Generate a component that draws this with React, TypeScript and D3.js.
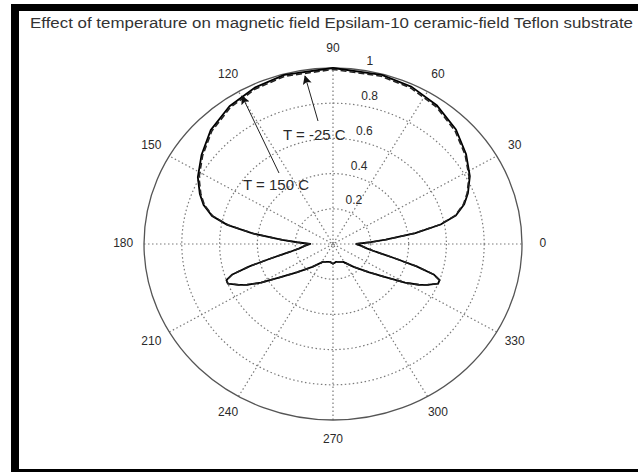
import React from "react";
import * as d3 from "d3";

// Polar pattern samples: angle (degrees) and normalised field magnitude
const angles = [
  0, 3, 5, 8, 11, 14, 18, 22, 28, 36, 45, 55, 65, 75, 90,
  105, 115, 125, 135, 144, 152, 158, 162, 166, 169, 172, 175, 177, 180,
  184, 188, 191, 194, 196, 198, 200, 202, 205, 207, 210, 214, 220, 230, 242, 255, 262, 266, 270,
  274, 278, 285, 298, 310, 320, 326, 330, 333, 335, 338, 340, 342, 344, 346, 349, 352, 356, 360,
];

const rColdValues = [
  0.12, 0.2, 0.28, 0.44, 0.58, 0.67, 0.73, 0.77, 0.82, 0.87, 0.92, 0.96, 0.985, 0.995, 1.0,
  0.995, 0.98, 0.955, 0.915, 0.86, 0.81, 0.76, 0.72, 0.66, 0.57, 0.43, 0.27, 0.19, 0.12,
  0.15, 0.18, 0.23, 0.34, 0.46, 0.56, 0.6, 0.6, 0.55, 0.51, 0.44, 0.34, 0.25, 0.17, 0.115, 0.105, 0.103, 0.108, 0.112,
  0.108, 0.103, 0.105, 0.115, 0.17, 0.25, 0.34, 0.44, 0.51, 0.55, 0.6, 0.6, 0.56, 0.46, 0.34, 0.23, 0.18, 0.15, 0.12,
];

const rHotValues = [
  0.12, 0.2, 0.28, 0.435, 0.575, 0.665, 0.725, 0.765, 0.815, 0.864, 0.912, 0.952, 0.977, 0.987, 0.992,
  0.987, 0.972, 0.947, 0.907, 0.853, 0.803, 0.754, 0.715, 0.655, 0.565, 0.425, 0.27, 0.19, 0.12,
  0.15, 0.18, 0.23, 0.34, 0.46, 0.56, 0.6, 0.6, 0.55, 0.51, 0.44, 0.34, 0.25, 0.17, 0.115, 0.105, 0.103, 0.108, 0.112,
  0.108, 0.103, 0.105, 0.115, 0.17, 0.25, 0.34, 0.44, 0.51, 0.55, 0.6, 0.6, 0.56, 0.46, 0.34, 0.23, 0.18, 0.15, 0.12,
];

const angleTicks = [0, 30, 60, 90, 120, 150, 180, 210, 240, 270, 300, 330];
const spokeAngles = [0, 30, 60, 90, 120, 150];
const radiusTicks = [0.2, 0.4, 0.6, 0.8, 1];
const radiusTickLabels = ["0.2", "0.4", "0.6", "0.8", "1"];

const title =
  "Effect of temperature on magnetic field Epsilam-10 ceramic-field Teflon substrate";

const W = 638;
const H = 472;
const cx = 333;
const cy = 244;
const rx = 189;
const ry = 176;

const x = d3.scaleLinear().domain([-1, 1]).range([cx - rx, cx + rx]);
const y = d3.scaleLinear().domain([-1, 1]).range([cy + ry, cy - ry]);
const rad = (deg: number) => (deg * Math.PI) / 180;

type P = [number, number]; // [angleDeg, r]

const polarLine = d3
  .line<P>()
  .x((d) => x(d[1] * Math.cos(rad(d[0]))))
  .y((d) => y(d[1] * Math.sin(rad(d[0]))));

const coldSeries: P[] = angles.map((a, i) => [a, rColdValues[i]]);
const hotSeries: P[] = angles.map((a, i) => [a, rHotValues[i]]);

const gridColor = "#7a7a7a";
const textColor = "#2a2a2a";
const font = "Arial, 'Liberation Sans', Helvetica, sans-serif";

export default function App() {
  return (
    <svg
      width={W}
      height={H}
      style={{ position: "absolute", left: 0, top: 0, display: "block" }}
      fontFamily={font}
    >
      <defs>
        <marker
          id="arrow"
          viewBox="0 0 10 10"
          refX="9"
          refY="5"
          markerWidth="9"
          markerHeight="9"
          markerUnits="userSpaceOnUse"
          orient="auto"
        >
          <path d="M0,0 L10,5 L0,10 L2,5 Z" fill="#111" />
        </marker>
      </defs>
      <rect x={0} y={0} width={W} height={H} fill="#fff" />

      {/* frame */}
      <rect x={11} y={4} width={W - 11} height={7} fill="#000" />
      <rect x={11} y={4} width={8} height={H - 4} fill="#000" />
      <rect x={11} y={469} width={W - 11} height={3} fill="#000" />

      <text
        x={30}
        y={28}
        fontSize={14}
        fill="#333"
        textLength={603}
        lengthAdjust="spacingAndGlyphs"
      >
        {title}
      </text>

      {/* spokes */}
      {spokeAngles.map((a) => (
        <line
          key={"s" + a}
          x1={x(-Math.cos(rad(a)))}
          y1={y(-Math.sin(rad(a)))}
          x2={x(Math.cos(rad(a)))}
          y2={y(Math.sin(rad(a)))}
          stroke={gridColor}
          strokeWidth={1.2}
          strokeDasharray="1.5,2.5"
        />
      ))}

      {/* rings */}
      {radiusTicks.map((r) =>
        r < 1 ? (
          <ellipse
            key={"r" + r}
            cx={x(0)}
            cy={y(0)}
            rx={x(r) - x(0)}
            ry={y(0) - y(r)}
            fill="none"
            stroke={gridColor}
            strokeWidth={1.2}
            strokeDasharray="1.5,2.5"
          />
        ) : (
          <ellipse
            key={"r" + r}
            cx={x(0)}
            cy={y(0)}
            rx={x(r) - x(0)}
            ry={y(0) - y(r)}
            fill="none"
            stroke="#555"
            strokeWidth={1.3}
          />
        )
      )}

      {/* radius labels along the 82 degree direction */}
      {radiusTicks.map((r, i) => (
        <text
          key={"rl" + r}
          x={x((r + 0.01) * Math.cos(rad(82))) + 7}
          y={y((r + 0.01) * Math.sin(rad(82))) - 3}
          fontSize={12}
          fill={textColor}
        >
          {radiusTickLabels[i]}
        </text>
      ))}

      {/* angle labels */}
      {angleTicks.map((a) => (
        <text
          key={"a" + a}
          x={x(1.11 * Math.cos(rad(a)))}
          y={y(1.11 * Math.sin(rad(a)))}
          fontSize={12}
          fill={textColor}
          textAnchor="middle"
          dominantBaseline="middle"
        >
          {a}
        </text>
      ))}

      {/* pattern curves */}
      <path
        d={polarLine(coldSeries) ?? ""}
        fill="none"
        stroke="#000"
        strokeWidth={1.8}
        strokeLinejoin="round"
      />
      <path
        d={polarLine(hotSeries) ?? ""}
        fill="none"
        stroke="#222"
        strokeWidth={1.6}
        strokeDasharray="6,3"
        strokeLinejoin="round"
      />

      {/* annotations */}
      <line
        x1={318}
        y1={121}
        x2={305}
        y2={76}
        stroke="#222"
        strokeWidth={1}
        markerEnd="url(#arrow)"
      />
      <text x={283} y={140} fontSize={15} fill={textColor}>
        T = -25 C
      </text>
      <line
        x1={279}
        y1={173}
        x2={242}
        y2={96}
        stroke="#222"
        strokeWidth={1}
        markerEnd="url(#arrow)"
      />
      <text x={243} y={190} fontSize={15} fill={textColor}>
        T = 150 C
      </text>
    </svg>
  );
}
